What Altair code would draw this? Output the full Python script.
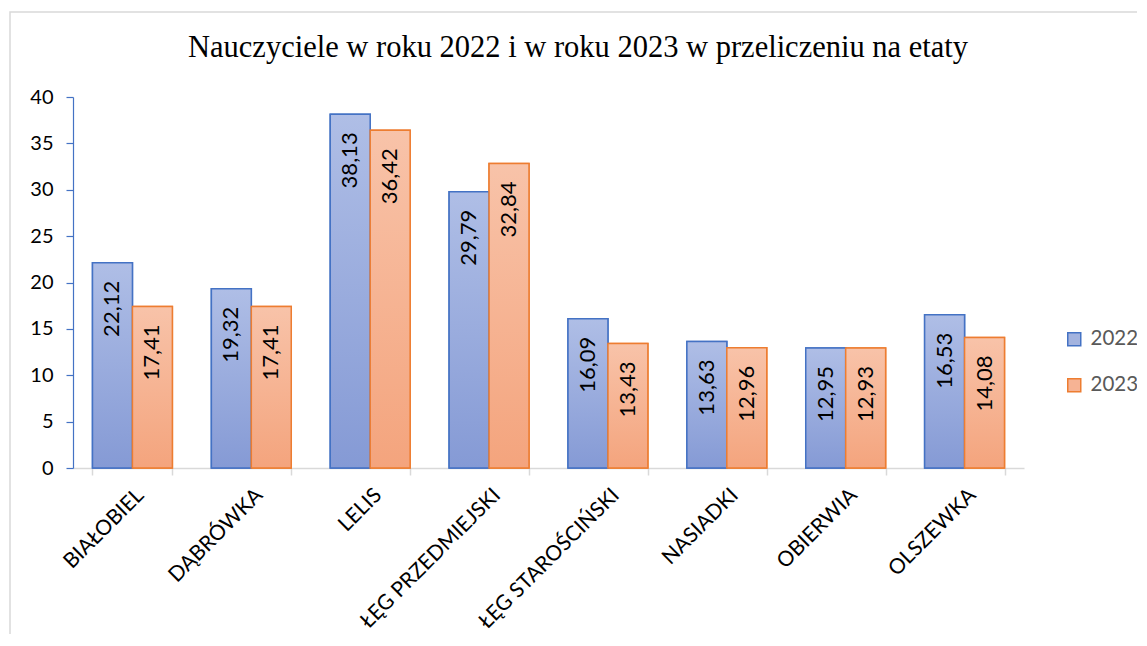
import altair as alt
import pandas as pd

categories = ["BIAŁOBIEL", "DĄBRÓWKA", "LELIS", "ŁĘG PRZEDMIEJSKI",
              "ŁĘG STAROŚCIŃSKI", "NASIADKI", "OBIERWIA", "OLSZEWKA"]
years = ["2022", "2023"]
values_2022 = [22.12, 19.32, 38.13, 29.79, 16.09, 13.63, 12.95, 16.53]
values_2023 = [17.41, 17.41, 36.42, 32.84, 13.43, 12.96, 12.93, 14.08]
y_ticks = [0, 5, 10, 15, 20, 25, 30, 35, 40]
title_text = "Nauczyciele w roku 2022 i w roku 2023 w przeliczeniu na etaty"

rows = []
for c, v in zip(categories, values_2022):
    rows.append({"category": c, "year": "2022", "value": v})
for c, v in zip(categories, values_2023):
    rows.append({"category": c, "year": "2023", "value": v})
df = pd.DataFrame(rows)

FONT = "Lato"

grad22 = {"gradient": "linear", "x1": 0, "y1": 0, "x2": 0, "y2": 1,
          "stops": [{"offset": 0, "color": "#AFBEE6"}, {"offset": 1, "color": "#859AD5"}]}
grad23 = {"gradient": "linear", "x1": 0, "y1": 0, "x2": 0, "y2": 1,
          "stops": [{"offset": 0, "color": "#F8C3A9"}, {"offset": 1, "color": "#F4A47D"}]}

base = alt.Chart(df).transform_calculate(
    label="replace(format(datum.value, '.2f'), '.', ',')"
).encode(
    x=alt.X("category:N", sort=categories, title=None,
            scale=alt.Scale(paddingInner=0.328, paddingOuter=0.164),
            axis=alt.Axis(labelAngle=-45, labelFont=FONT, labelFontSize=21,
                          labelColor="#000000", labelLimit=400, labelPadding=9,
                          domainColor="#D9D9D9", domainWidth=1.5,
                          tickColor="#D9D9D9", tickWidth=1.5, tickSize=7,
                          tickBand="extent")),
    xOffset=alt.XOffset("year:N", sort=years,
                        scale=alt.Scale(domain=years, paddingInner=0, paddingOuter=0)),
    y=alt.Y("value:Q", title=None,
            scale=alt.Scale(domain=[0, 40], nice=False),
            axis=alt.Axis(values=y_ticks, grid=False, labelFont=FONT, labelFontSize=20,
                          labelColor="#000000", labelPadding=13,
                          domainColor="#4472C4", domainWidth=1.2,
                          tickColor="#4472C4", tickWidth=1.2, tickSize=7)),
)

legend_cfg = dict(title=None, orient="none", legendX=991, legendY=232,
                  symbolType="square", symbolSize=169, symbolStrokeWidth=1.5,
                  labelFont=FONT, labelFontSize=20.5, labelColor="#595959",
                  labelOffset=6, rowPadding=25)

bars_legend = base.mark_bar(strokeWidth=1.5).encode(
    fill=alt.Fill("year:N", scale=alt.Scale(domain=years, range=["#A3B3DF", "#F6B394"]),
                  legend=alt.Legend(**legend_cfg)),
    stroke=alt.Stroke("year:N", scale=alt.Scale(domain=years, range=["#4472C4", "#ED7D31"]),
                      legend=alt.Legend(**legend_cfg)),
)

bars = base.mark_bar(strokeWidth=1.5).encode(
    fill=alt.condition("datum.year == '2022'", alt.value(grad22), alt.value(grad23)),
    stroke=alt.condition("datum.year == '2022'", alt.value("#4472C4"), alt.value("#ED7D31")),
)

labels = base.mark_text(angle=270, align="right", baseline="middle", dx=-18,
                        font=FONT, fontSize=22, color="#000000").encode(
    text="label:N"
)

title = alt.Chart(pd.DataFrame({"t": [title_text]})).mark_text(
    font="Liberation Serif", fontSize=30.5, color="#000000",
    align="center", baseline="alphabetic"
).encode(text="t:N", x=alt.value(505), y=alt.value(-40))

border = alt.Chart(pd.DataFrame({"a": [0]})).mark_rect(
    fillOpacity=0, stroke="#D9D9D9", strokeWidth=1.5
).encode(x=alt.value(-63), x2=alt.value(1300), y=alt.value(-85), y2=alt.value(800))

chart = alt.layer(border, bars_legend, bars, labels, title).properties(
    width=951, height=371,
    autosize=alt.AutoSizeParams(type="none"),
    padding={"left": 65, "top": 89, "right": 113, "bottom": 166},
).configure_view(stroke=None)

chart.save("out.html", embed_options={"renderer": "svg", "actions": False})
